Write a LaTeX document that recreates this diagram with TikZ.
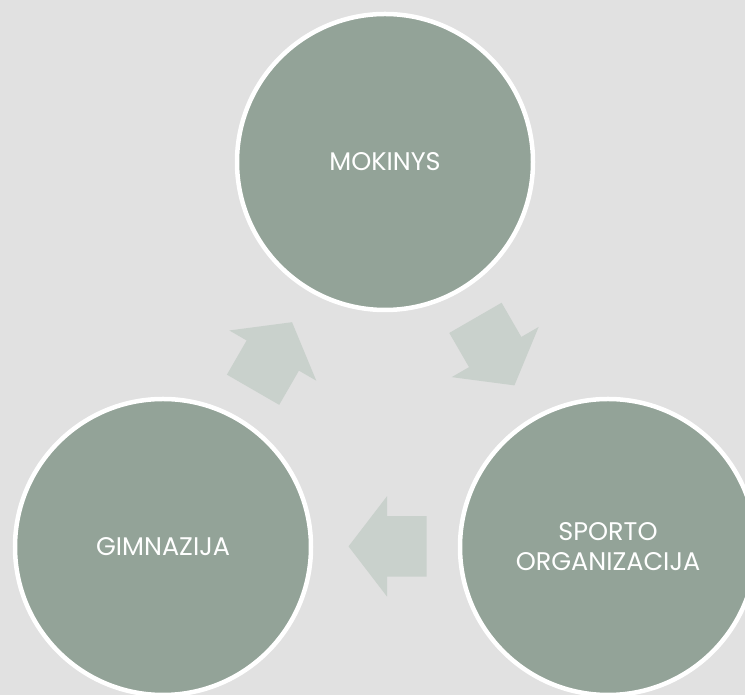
\documentclass[tikz,border=0pt]{standalone}
\usepackage{xcolor}
\usepackage{fontspec}
\setmainfont{Poppins}
\usepackage{tikz}
\usetikzlibrary{shapes.arrows}

\definecolor{slide}{HTML}{E1E1E1}
\definecolor{sage}{HTML}{93A398}
\definecolor{paleSage}{HTML}{C9D1CC}

\begin{document}
\begin{tikzpicture}[
    x=1pt, y=1pt,
    stage/.style={circle, draw=white, line width=4.5pt, fill=sage, minimum size=296pt, inner sep=0pt, align=center, text=white, font=\fontsize{25.5}{30}\selectfont},
    flow/.style={single arrow, fill=paleSage, draw=none, single arrow head extend=20pt, single arrow tip angle=105, minimum height=78pt, inner xsep=0pt, inner ysep=30pt, anchor=tail}
]
    % Slide background
    \clip (0,0) rectangle (745,695);
    \fill[slide] (0,0) rectangle (745,695);

    % Cycle centre
    \coordinate (hub) at (385,277);

    % Stages
    \node[stage] (mokinys) at (385,533) {MOKINYS};
    \node[stage] (gimnazija) at (163,148) {GIMNAZIJA};
    \node[stage] (sporto) at (608,148) {SPORTO\\ORGANIZACIJA};

    % Arrows between stages
    \node[flow, rotate=-60] (toSporto) at ([shift={(48:135)}]hub) {};
    \node[flow, rotate=180] (toGimnazija) at ([shift={(288:135)}]hub) {};
    \node[flow, rotate=60] (toMokinys) at ([shift={(168:135)}]hub) {};
\end{tikzpicture}
\end{document}
